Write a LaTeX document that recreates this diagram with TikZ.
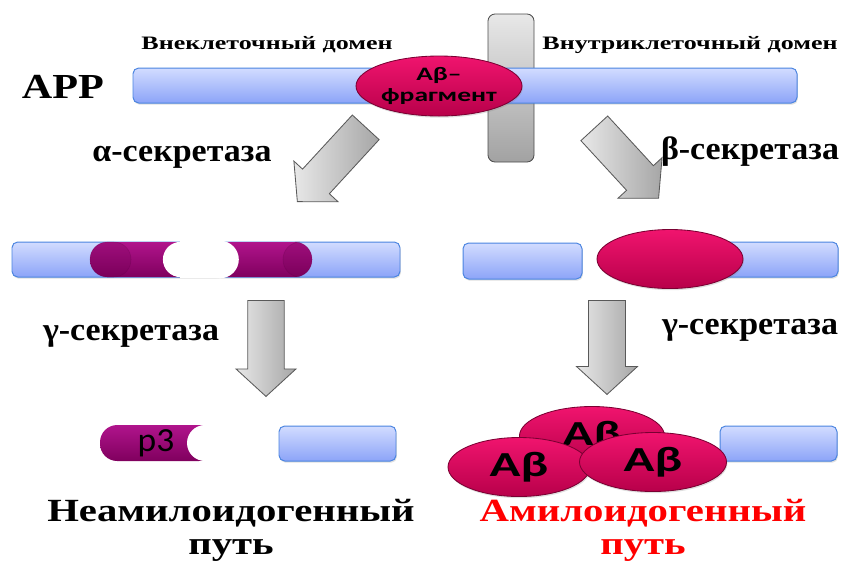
\documentclass[tikz,border=0pt]{standalone}
\usepackage{fontspec}
\setmainfont{Liberation Serif}
% wide cuts of the serif and sans faces
\newfontfamily\domfont[FakeStretch=1.37]{Liberation Serif}
\newfontfamily\appfont[FakeStretch=1.2]{Liberation Serif}
\newfontfamily\secfont[FakeStretch=1.05]{Liberation Serif}
\newfontfamily\pathfont[FakeStretch=1.26]{Liberation Serif}
\newfontfamily\labelsans[FakeStretch=1.45]{Carlito}
\newfontfamily\pthreefont[FakeStretch=1.05]{Carlito}
\usepackage{xcolor}
\usetikzlibrary{positioning}
\usetikzlibrary{shapes.geometric}
\usetikzlibrary{shapes.arrows}
\usetikzlibrary{fit}
\usetikzlibrary{shadows}

\definecolor{barTop}{HTML}{D2DCFF}
\definecolor{barBot}{HTML}{8CA4F8}
\definecolor{barLine}{HTML}{4A84E0}
\definecolor{abTop}{HTML}{F0146E}
\definecolor{abBot}{HTML}{B8004A}
\definecolor{abLine}{HTML}{7A0032}
\definecolor{capTop}{HTML}{B0148C}
\definecolor{capBot}{HTML}{80005E}
\definecolor{memTop}{HTML}{E8E8E8}
\definecolor{memBot}{HTML}{A2A2A2}
\definecolor{arrTop}{HTML}{E8E8E8}
\definecolor{arrBot}{HTML}{A6A6A6}

% one unit = one pixel of the 846 x 562 canvas
\newcommand{\pxu}{0.025cm}

\begin{document}
\begin{tikzpicture}[x=0.025cm, y=-0.025cm,
		% Style definitions
		bar/.style={draw=barLine, line width=0.7pt, rounded corners=4pt, top color=barTop, bottom color=barBot, inner sep=0pt,
			drop shadow={shadow xshift=0.6pt, shadow yshift=-1.2pt, opacity=0.25}},
		membrane/.style={draw=black!70, line width=0.6pt, rounded corners=5pt, top color=memTop, bottom color=memBot, inner sep=0pt},
		abfrag/.style={ellipse, draw=abLine, line width=0.6pt, top color=abTop, bottom color=abBot, inner sep=0pt,
			minimum width=145*\pxu, minimum height=59*\pxu, font=\labelsans\bfseries\fontsize{25}{28}\selectfont,
			drop shadow={shadow xshift=0.6pt, shadow yshift=-1.2pt, opacity=0.25}},
		capsule/.style={rounded corners=0.43cm, top color=capTop, bottom color=capBot, inner sep=0pt},
		capinner/.style={rounded corners=0.43cm, fill=capBot!85!black, opacity=0.25, draw=capBot!70!black, inner sep=0pt},
		blockarrow/.style={single arrow, draw=black!65, line width=0.6pt, left color=arrTop, right color=arrBot,
			inner xsep=0pt, inner ysep=15*\pxu, minimum width=60*\pxu, single arrow tip angle=95, anchor=tail},
		domlabel/.style={font=\domfont\bfseries\fontsize{13.5}{15}\selectfont},
		seclabel/.style={font=\secfont\bfseries\fontsize{23}{26}\selectfont},
		pathlabel/.style={font=\pathfont\bfseries\fontsize{23}{23.5}\selectfont, align=center},
		]
		\useasboundingbox (0,0) rectangle (846,562);

		% === ROW 1: full APP across the membrane ===
		\node[membrane, fit={(488,14) (534,162)}] (membrane) {};
		\node[bar, fit={(133,68) (797,103)}] (app bar) {};
		\node[abfrag, minimum width=166*\pxu, minimum height=60*\pxu, align=center,
			font=\labelsans\bfseries\fontsize{13.5}{14.5}\selectfont] (fragment) at (439,86) {Aβ–\\фрагмент};
		\node[font=\appfont\bfseries\fontsize{25}{28}\selectfont] (app) at (63,87) {APP};
		\node[domlabel] (extra) at (267,45) {Внеклеточный домен};
		\node[domlabel] (intra) at (690,45) {Внутриклеточный домен};

		% === Cleavage arrows from APP ===
		\node[blockarrow, minimum height=101*\pxu, rotate=227.4] (alpha arrow) at (366,127) {};
		\node[blockarrow, minimum height=95*\pxu, rotate=-47.4] (beta arrow) at (594,128) {};
		\node[seclabel] (alpha) at (182,157) {α-секретаза};
		\node[seclabel] (beta) at (750,152) {β-секретаза};

		% === ROW 2 left: alpha cut inside the fragment ===
		\node[bar, fit={(12,242) (400,277)}] (alpha bar) {};
		\node[capsule, fit={(90,242) (200,277)}] (alpha left) {};
		\node[capinner, fit={(90,242) (131,277)}] {};
		\node[capsule, fit={(205,242) (312,277)}] (alpha right) {};
		\node[capinner, fit={(283,242) (312,277)}] {};
		\fill[white] (180,241) rectangle (222,278);
		\fill[white] (180.5,259.5) circle[radius=17.6*\pxu];
		\fill[white] (220,259.5) circle[radius=18.8*\pxu];

		% === ROW 2 right: beta cut, fragment stays whole ===
		\node[bar, fit={(463,243) (582,279)}] (beta left) {};
		\node[bar, fit={(700,242) (838,277)}] (beta right) {};
		\node[abfrag, minimum width=146*\pxu] (beta frag) at (670,259) {};

		% === gamma-secretase step ===
		\node[blockarrow, minimum height=96*\pxu, rotate=-90] (gamma arrow l) at (266,300) {};
		\node[blockarrow, minimum height=94*\pxu, rotate=-90, minimum width=61*\pxu] (gamma arrow r) at (607,300) {};
		\node[seclabel] (gamma l) at (131,336) {γ-секретаза};
		\node[seclabel] (gamma r) at (750,330) {γ-секретаза};

		% === ROW 3 left: p3 and the rest ===
		\node[capsule, fit={(100,425) (216,461)}] (p3) {};
		\fill[white] (205,443) circle[radius=18*\pxu];
		\node[font=\pthreefont\fontsize{24}{26}\selectfont] at (p3.center) [xshift=-0.05cm] {p3};
		\node[bar, fit={(279,426) (396,461)}] (p3 rest) {};

		% === ROW 3 right: aggregated Abeta ===
		\node[bar, fit={(720,426) (837,461)}] (ab rest) {};
		\node[abfrag] (ab top) at (592,436) {\raisebox{3pt}{Aβ}};
		\node[abfrag, minimum width=142*\pxu] (ab left) at (519,467) {Aβ};
		\node[abfrag, minimum width=147*\pxu] (ab right) at (653,462) {Aβ};

		% === Pathway names ===
		\node[pathlabel] (nonamyl) at (231,530) {Неамилоидогенный\\путь};
		\node[pathlabel, text=red] (amyl) at (643,530) {Амилоидогенный\\путь};

	\end{tikzpicture}
\end{document}
